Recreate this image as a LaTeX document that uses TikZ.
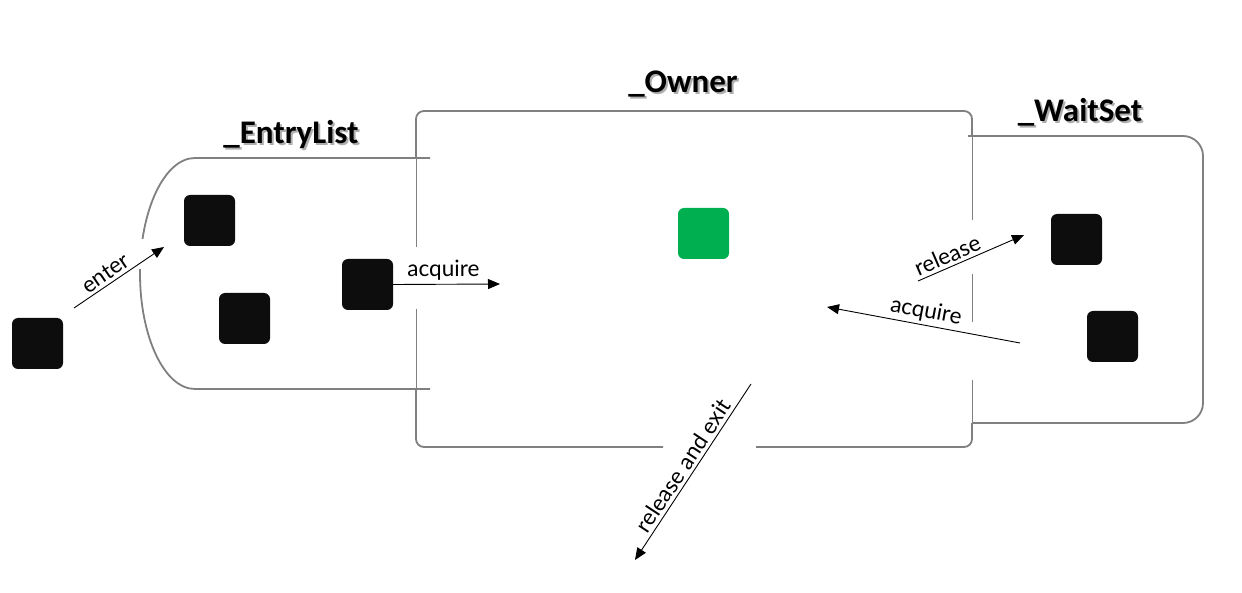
\documentclass[tikz,border=0pt]{standalone}
\usepackage{fontspec}
\setmainfont{Lato}
\newfontfamily\titlefont{Carlito}
\usetikzlibrary{arrows.meta}
\definecolor{boxgray}{HTML}{808080}
\definecolor{blk}{HTML}{0D0D0D}
\definecolor{owngreen}{HTML}{00B050}
\begin{document}
\begin{tikzpicture}[x=1pt,y=-1pt,
  sq/.style={rectangle, rounded corners=6pt, minimum size=51pt, inner sep=0pt, fill=blk},
  outline/.style={draw=boxgray, line width=1.8pt},
  thinline/.style={draw=boxgray, line width=0.9pt},
  arr/.style={draw=black, line width=0.9pt, -{Triangle[length=12pt,width=10pt]}},
  rarr/.style={draw=black, line width=0.9pt, {Triangle[length=12pt,width=10pt]}-},
  lbl/.style={font=\fontsize{22.5}{22.5}\selectfont, inner sep=3pt},
  ttl/.style={font=\titlefont\bfseries\fontsize{33}{33}\selectfont, anchor=base, inner sep=0pt},
  shd/.style={ttl, text=black!45, opacity=0.7}]
\useasboundingbox (0,0) rectangle (1242,593);
\fill[white] (0,0) rectangle (1242,593);

% titles
\node[shd] at (293,146) {\_EntryList};
\node[ttl] (tEntry) at (291,144) {\_EntryList};
\node[shd] at (685,95) {\_Owner};
\node[ttl] (tOwner) at (683,93) {\_Owner};
\node[shd] at (1082,124) {\_WaitSet};
\node[ttl] (tWait) at (1080,122) {\_WaitSet};

% Owner box (thick outer parts)
\draw[outline, rounded corners=8pt] (416,158) -- (416,111) -- (972,111) -- (972,136);
\draw[outline, rounded corners=8pt] (416,389) -- (416,447) -- (663,447);
\draw[outline, rounded corners=8pt] (756,447) -- (972,447) -- (972,423);
% Owner box (thin inner parts)
\draw[thinline] (416,158) -- (416,247);
\draw[thinline] (416,309) -- (416,389);
\draw[thinline] (972,136) -- (972,220);
\draw[thinline] (972,274) -- (972,322);
\draw[thinline] (972,380) -- (972,423);

% EntryList outline
\draw[outline] (430,158) -- (195,158)
  .. controls (164.6,158) and (140,210) .. (140,273.5)
  .. controls (140,337) and (164.6,389) .. (195,389) -- (430,389);
\fill[white] (132,239) rectangle (150,269);

% WaitSet outline
\draw[outline, rounded corners=20pt] (968,136) -- (1203,136) -- (1203,423) -- (972,423);

% threads
\node[sq] (out) at (37.5,343.5) {};
\node[sq] (e1) at (209.5,220.5) {};
\node[sq] (e2) at (244.5,318.5) {};
\node[sq] (e3) at (367.5,284.5) {};
\node[sq, fill=owngreen] (own) at (703.5,233.5) {};
\node[sq] (w1) at (1076.5,239.5) {};
\node[sq] (w2) at (1112.5,336.5) {};

% connector end points
\coordinate (enS) at (74,308);
\coordinate (enE) at (164,247);
\coordinate (acE) at (500,284);
\coordinate (reS) at (918,281);
\coordinate (reE) at (1024,235);
\coordinate (aqS) at (1020,343);
\coordinate (aqE) at (827,307);
\coordinate (rxS) at (751,384);
\coordinate (rxE) at (635,560);

% connectors
\draw[arr] (enS) -- (enE) node[lbl, pos=0.42, above, sloped] {enter};
\draw[arr] (e3.east) -- (acE) node[lbl, pos=0.47, above] {acquire};
\draw[arr] (reS) -- (reE) node[lbl, pos=0.32, above, sloped] {release};
\draw[rarr] (aqE) -- (aqS) node[lbl, pos=0.5, above, sloped] {acquire};
\draw[rarr] (rxE) -- (rxS) node[lbl, pos=0.5, above, sloped] {release and exit};
\end{tikzpicture}
\end{document}
